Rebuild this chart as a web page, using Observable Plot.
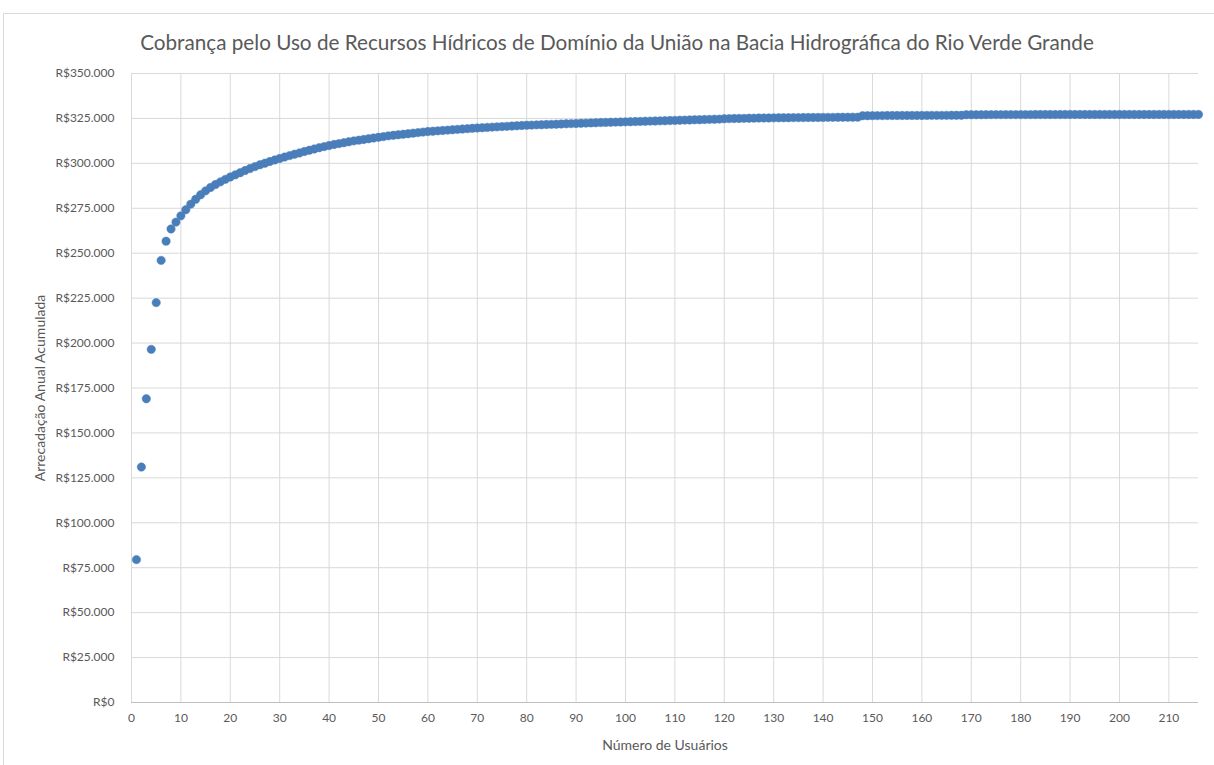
<!DOCTYPE html>
<html>
<head>
<meta charset="utf-8">
<script src="https://cdn.jsdelivr.net/npm/d3@7"></script>
<script src="https://cdn.jsdelivr.net/npm/@observablehq/plot@0.6"></script>
<style>
  html, body { margin: 0; padding: 0; background: #fff; }
  #wrap { position: relative; width: 1214px; height: 765px; overflow: hidden; font-family: Lato, "Open Sans", sans-serif; }
  #frame { position: absolute; left: 3px; top: 13px; width: 1220px; height: 770px; border: 1px solid #d9d9d9; pointer-events: none; }
  #title { height: 30px; padding-top: 30px; line-height: 24px; text-align: center; padding-left: 20px; font-size: 20.7px; color: #595959; white-space: nowrap; }
  svg { display: block; }
</style>
</head>
<body>
<div id="wrap">
  <div id="frame"></div>
  <div id="title">Cobrança pelo Uso de Recursos Hídricos de Domínio da União na Bacia Hidrográfica do Rio Verde Grande</div>
  <div id="chart"></div>
</div>
<script>
const chartTitle = "Cobrança pelo Uso de Recursos Hídricos de Domínio da União na Bacia Hidrográfica do Rio Verde Grande";
const xTitle = "Número de Usuários";
const yTitle = "Arrecadação Anual Acumulada";
const xTicks = [0,10,20,30,40,50,60,70,80,90,100,110,120,130,140,150,160,170,180,190,200,210];
const yTicks = [0,25000,50000,75000,100000,125000,150000,175000,200000,225000,250000,275000,300000,325000,350000];

// Accumulated annual revenue (R$) for users 1..216
const values = [
  79500, 131000, 169000, 196500, 222500, 246000, 256700, 263500, 267300, 270800,
  274200, 277300, 280000, 282500, 284700, 286600, 288200, 289700, 291100, 292400,
  293600, 294800, 296000, 297100, 298200, 299200, 300100, 301000, 301900, 302700,
  303500, 304300, 305100, 305800, 306600, 307300, 308000, 308700, 309300, 309900,
  310500, 311000, 311500, 312000, 312500, 312900, 313300, 313700, 314100, 314500,
  314900, 315300, 315600, 315900, 316200, 316500, 316800, 317100, 317400, 317700,
  317900, 318100, 318300, 318500, 318700, 318900, 319100, 319300, 319500, 319700,
  319850, 320000, 320150, 320300, 320450, 320600, 320750, 320900, 321050, 321200,
  321300, 321400, 321500, 321600, 321700, 321800, 321900, 322000, 322100, 322200,
  322300, 322400, 322500, 322600, 322700, 322780, 322860, 322940, 323020, 323100,
  323180, 323260, 323340, 323420, 323500, 323580, 323660, 323740, 323820, 323900,
  324000, 324080, 324160, 324240, 324300, 324380, 324460, 324540, 324620, 324800,
  324880, 324940, 325000, 325050, 325100, 325150, 325200, 325240, 325280, 325320,
  325350, 325380, 325410, 325440, 325460, 325480, 325500, 325520, 325540, 325560,
  325580, 325600, 325620, 325640, 325660, 325680, 325700,
  326500, 326520, 326540, 326560, 326580, 326600, 326610, 326620, 326630, 326640, 326650, 326660, 326670,
  326680, 326690, 326700, 326710, 326720, 326730, 326740, 326750,
  327050, 327060, 327070, 327080, 327090, 327100, 327105, 327110, 327115, 327120,
  327125, 327130, 327135, 327140, 327145, 327150, 327155, 327160, 327165, 327170,
  327172, 327174, 327176, 327178, 327180, 327182, 327184, 327186, 327188, 327190,
  327192, 327194, 327196, 327198, 327200, 327202, 327204, 327206, 327208, 327210,
  327212, 327214, 327216, 327218, 327220, 327222, 327224, 327226
];
const users = values.map((_, i) => i + 1);
const data = users.map((u, i) => ({u, v: values[i]}));

const fmt = v => "R$" + d3.format(",")(v).replace(/,/g, ".");

const txt = "#595959";
const plot = Plot.plot({
  width: 1214,
  height: 705,
  marginLeft: 131,
  marginRight: 16,
  marginTop: 13,
  marginBottom: 63,
  style: {fontFamily: "Lato, 'Open Sans', sans-serif", fontSize: "12px", color: txt, background: "transparent", overflow: "visible"},
  x: {domain: [0, users.length], ticks: xTicks},
  y: {domain: [0, 350000], ticks: yTicks},
  marks: [
    Plot.gridX(xTicks, {stroke: "#d9d9d9", strokeOpacity: 1, strokeWidth: 1}),
    Plot.gridY(yTicks.slice(1), {stroke: "#d9d9d9", strokeOpacity: 1, strokeWidth: 1}),
    Plot.ruleY([0], {stroke: "#bfbfbf", strokeWidth: 1}),
    Plot.axisX(xTicks, {tickSize: 0, tickPadding: 11, label: null, fill: txt, fontSize: 12}),
    Plot.axisY(yTicks, {tickSize: 0, tickPadding: 17, label: null, tickFormat: fmt, fill: txt, fontSize: 12}),
    Plot.dot(data, {x: "u", y: "v", r: 4.2, fill: "#4a7ebb", stroke: "#4a7ebb", strokeWidth: 0.5}),
    Plot.text([xTitle], {frameAnchor: "bottom", dy: 43, fill: txt, fontSize: 14, textAnchor: "middle", lineAnchor: "middle", style: "letter-spacing:0.6px"}),
    Plot.text([yTitle], {frameAnchor: "left", dx: -91, rotate: -90, fill: txt, fontSize: 14, textAnchor: "middle", lineAnchor: "middle"})
  ]
});
document.getElementById("chart").appendChild(plot);
</script>
</body>
</html>
